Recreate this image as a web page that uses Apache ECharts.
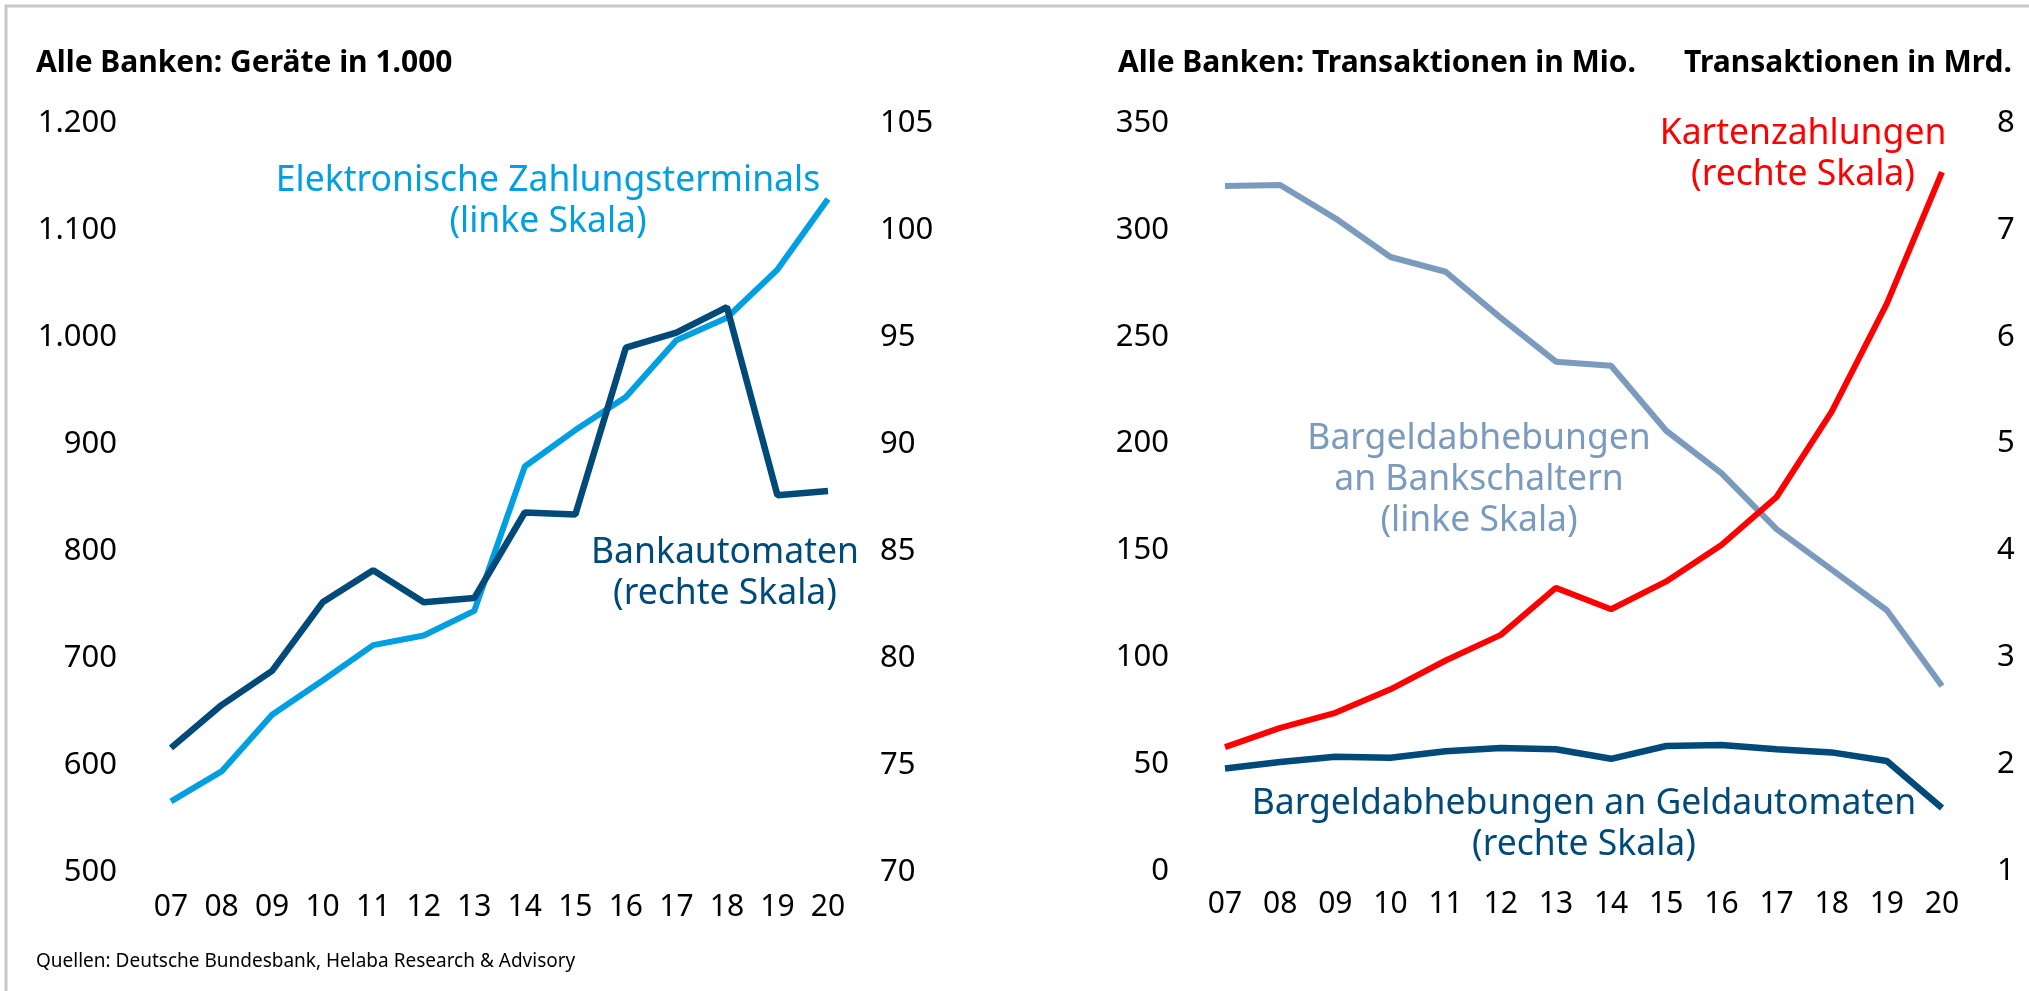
<!DOCTYPE html>
<html>
<head>
<meta charset="utf-8">
<script src="https://cdn.jsdelivr.net/npm/echarts@6/dist/echarts.min.js"></script>
<style>
  html, body { margin: 0; padding: 0; background: #fff; }
  #main { width: 2029px; height: 991px; }
</style>
</head>
<body>
<div id="main"></div>
<script>
// Jahre (2007-2020)
const years = ['07', '08', '09', '10', '11', '12', '13', '14', '15', '16', '17', '18', '19', '20'];

// linke Grafik: Geräte in 1.000
const terminals = [566, 594, 647, 679, 712, 721, 744, 879, 913, 944, 997, 1018, 1063, 1129];
const atms = [75.8, 77.8, 79.4, 82.6, 84.1, 82.6, 82.8, 86.8, 86.7, 94.5, 95.2, 96.4, 87.6, 87.8];

// rechte Grafik: Transaktionen
const counterWithdrawals = [320.5, 321, 305.4, 287.3, 280.4, 258.8, 238.3, 236.4, 206, 186.2, 160, 141, 122, 86.6];
const cardPayments = [2.16, 2.34, 2.48, 2.70, 2.97, 3.21, 3.65, 3.45, 3.71, 4.05, 4.50, 5.30, 6.31, 7.54];
const atmWithdrawals = [1.96, 2.02, 2.07, 2.06, 2.12, 2.15, 2.14, 2.05, 2.17, 2.18, 2.14, 2.11, 2.03, 1.59];

const FONT = '"Noto Sans", sans-serif';
const LIGHT_BLUE = '#009fe3';
const DARK_BLUE = '#004a7a';
const GREY_BLUE = '#7a9bbd';
const RED = '#ff0000';

function fmtThousand(v) {
    return String(v).replace(/\B(?=(\d{3})+(?!\d))/g, '.');
}

const xLabel = { color: '#000', fontSize: 30, fontFamily: FONT };
const yLabel = { color: '#000', fontSize: 31, fontFamily: FONT };
const titleStyle = { fontSize: 30, fontWeight: 'bold', color: '#000', fontFamily: FONT };

function yAxis(gridIndex, position, min, max, interval, margin, formatter) {
    return {
        type: 'value', gridIndex: gridIndex, position: position,
        min: min, max: max, interval: interval,
        axisLine: { show: false }, axisTick: { show: false }, splitLine: { show: false },
        axisLabel: Object.assign({ margin: margin, formatter: formatter }, yLabel)
    };
}

function note(x, y, lines, color) {
    return {
        type: 'text', x: x, y: y,
        style: {
            text: lines.join('\n'), fill: color, font: '35.5px ' + FONT,
            align: 'center', verticalAlign: 'top', lineHeight: 41
        }
    };
}

let option = {
    animation: false,
    backgroundColor: '#fff',
    title: [
        { text: 'Alle Banken: Geräte in 1.000', left: 31, top: 43, textStyle: titleStyle },
        { text: 'Alle Banken: Transaktionen in Mio.', left: 1113, top: 43, textStyle: titleStyle },
        { text: 'Transaktionen in Mrd.', right: 12, top: 43, textStyle: titleStyle },
        { text: 'Quellen: Deutsche Bundesbank, Helaba Research & Advisory', left: 31, top: 947,
          textStyle: { fontSize: 19, fontWeight: 'normal', color: '#000', fontFamily: FONT } }
    ],
    grid: [
        { left: 171, top: 123, width: 657, height: 749 },
        { left: 1225, top: 123, width: 717, height: 748 }
    ],
    xAxis: [
        { type: 'category', gridIndex: 0, data: years, boundaryGap: false,
          axisLine: { show: false }, axisTick: { show: false },
          axisLabel: Object.assign({ margin: 20 }, xLabel) },
        { type: 'category', gridIndex: 1, data: years, boundaryGap: false,
          axisLine: { show: false }, axisTick: { show: false },
          axisLabel: Object.assign({ margin: 18 }, xLabel) }
    ],
    yAxis: [
        yAxis(0, 'left', 500, 1200, 100, 54, fmtThousand),
        yAxis(0, 'right', 70, 105, 5, 52),
        yAxis(1, 'left', 0, 350, 50, 56),
        yAxis(1, 'right', 1, 8, 1, 55)
    ],
    series: [
        { name: 'Elektronische Zahlungsterminals', type: 'line', xAxisIndex: 0, yAxisIndex: 0,
          data: terminals, symbol: 'none', lineStyle: { color: LIGHT_BLUE, width: 6 } },
        { name: 'Bankautomaten', type: 'line', xAxisIndex: 0, yAxisIndex: 1,
          data: atms, symbol: 'none', lineStyle: { color: DARK_BLUE, width: 6.5 } },
        { name: 'Bargeldabhebungen an Bankschaltern', type: 'line', xAxisIndex: 1, yAxisIndex: 2,
          data: counterWithdrawals, symbol: 'none', lineStyle: { color: GREY_BLUE, width: 6 } },
        { name: 'Kartenzahlungen', type: 'line', xAxisIndex: 1, yAxisIndex: 3,
          data: cardPayments, symbol: 'none', lineStyle: { color: RED, width: 6 } },
        { name: 'Bargeldabhebungen an Geldautomaten', type: 'line', xAxisIndex: 1, yAxisIndex: 3,
          data: atmWithdrawals, symbol: 'none', lineStyle: { color: DARK_BLUE, width: 6.5 } }
    ],
    graphic: [
        { type: 'polyline', shape: { points: [[6, 991], [6, 6], [2029, 6]] },
          style: { stroke: '#c8c8c8', lineWidth: 3, fill: null } },
        note(548, 160, ['Elektronische Zahlungsterminals', '(linke Skala)'], LIGHT_BLUE),
        note(725, 532, ['Bankautomaten', '(rechte Skala)'], DARK_BLUE),
        note(1803, 113, ['Kartenzahlungen', '(rechte Skala)'], RED),
        note(1479, 418, ['Bargeldabhebungen', 'an Bankschaltern', '(linke Skala)'], GREY_BLUE),
        note(1584, 783, ['Bargeldabhebungen an Geldautomaten', '(rechte Skala)'], DARK_BLUE)
    ]
};

let chart = echarts.init(document.getElementById('main'));
chart.setOption(option);
</script>
</body>
</html>
